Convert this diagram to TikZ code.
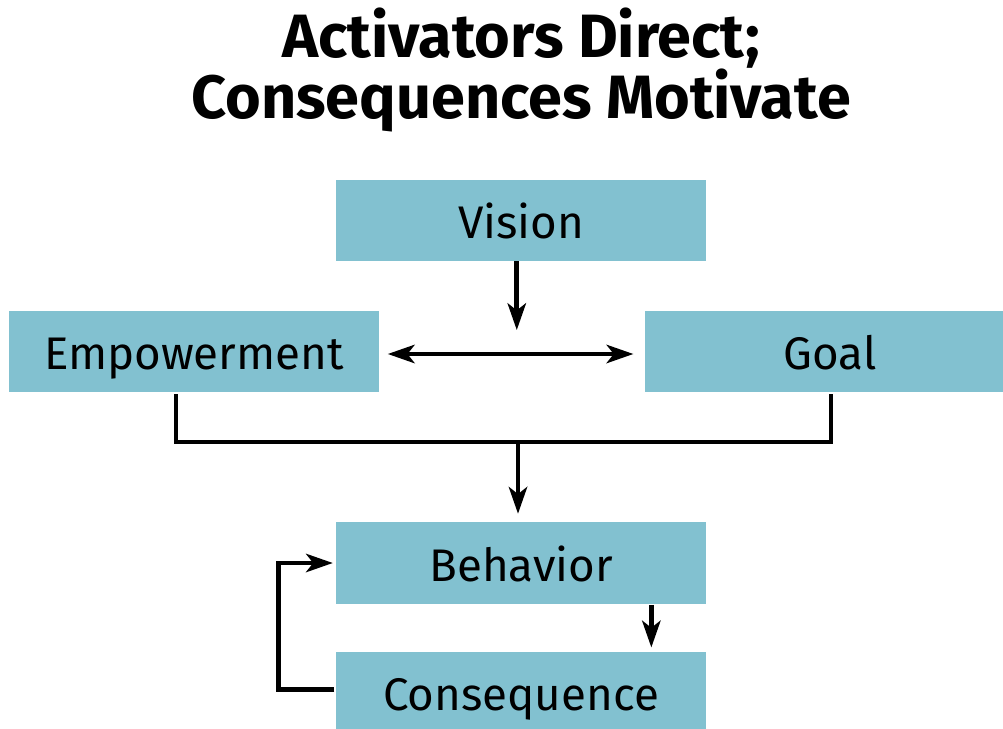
\documentclass[tikz,border=0pt]{standalone}
\usepackage{fontspec}
\setmainfont{Fira Sans}
\usetikzlibrary{arrows.meta, calc}

\definecolor{boxblue}{RGB}{130,193,208}

\begin{document}
\begin{tikzpicture}[x=0.025cm, y=-0.025cm,
    box/.style={fill=boxblue, minimum width=9.25cm, minimum height=2.025cm, inner sep=0,
      text height=26pt, text depth=0pt, font=\fontsize{32.5}{36}\selectfont},
    arr/.style={line width=3.3pt, -{Stealth[length=19pt, width=13pt, inset=5pt]}}]
  \clip (0,0) rectangle (1003,728);
  \node[align=center, font=\bfseries\fontsize{43.5}{41}\selectfont] (title) at (521,70)
    {Activators Direct;\\Consequences Motivate};
  \node[box] (vision)   at (521,220.5) {Vision};
  \node[box] (empower)  at (194,351.5) {Empowerment};
  \node[box] (goal)     at (830,351.5) {Goal};
  \node[box] (behavior) at (521,563)   {Behavior};
  \node[box] (conseq)   at (521,692.5) {Consequence};
  \coordinate (mid)  at (517,354);
  \coordinate (join) at (518,442);
  \coordinate (down) at ($(behavior.south east)+(-55,1)$);
  \draw[arr, shorten >=17pt] ([xshift=-3pt]vision.south) -- ([xshift=-3pt]vision.south |- mid);
  \draw[line width=3.3pt, {Stealth[length=19pt, width=13pt, inset=5pt]}-{Stealth[length=19pt, width=13pt, inset=5pt]}, shorten <=6pt, shorten >=8pt] (empower.east |- mid) -- (goal.west |- mid);
  \draw[line width=3.3pt] ($(empower.south)+(-18,2)$) |- (join) -| ($(goal.south)+(1,2)$);
  \draw[arr, shorten >=6pt] (join) -- (join |- behavior.north);
  \draw[arr, shorten >=3pt] (down) -- (down |- conseq.north);
  \draw[arr, shorten <=1pt, shorten >=2pt] ([yshift=2pt]conseq.west) -- ++(-57,0) |- (behavior.west);
\end{tikzpicture}
\end{document}
